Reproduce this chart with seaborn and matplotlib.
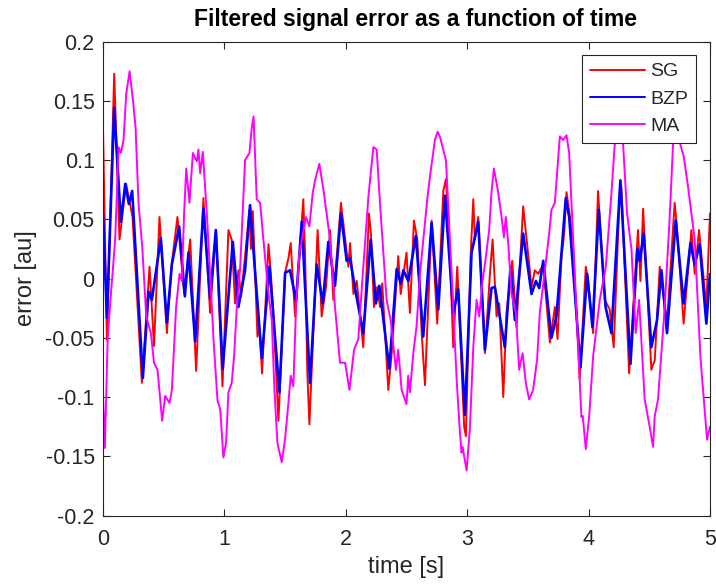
import numpy as np
import matplotlib
matplotlib.use("Agg")
import matplotlib.pyplot as plt
import seaborn as sns
from matplotlib.ticker import FuncFormatter

# -----------------------------
# Data (time [s], error [au])
# -----------------------------
sg_t = [0.0, 0.032, 0.092, 0.136, 0.19, 0.243, 0.32, 0.383, 0.42, 0.465, 0.526, 0.567,
        0.613, 0.668, 0.718, 0.767, 0.827, 0.882, 0.931, 0.984,
        1.033, 1.06, 1.088, 1.115, 1.137, 1.17, 1.206, 1.218, 1.234, 1.272, 1.288, 1.31,
        1.363, 1.382, 1.403, 1.445, 1.5, 1.527, 1.546, 1.582, 1.65, 1.664, 1.683, 1.7,
        1.738, 1.768, 1.801, 1.837, 1.87, 1.897, 1.96,
        2.007, 2.021, 2.035, 2.063, 2.09, 2.144, 2.191, 2.207, 2.232, 2.259, 2.282, 2.3,
        2.35, 2.378, 2.432, 2.452, 2.5, 2.528, 2.561, 2.589, 2.625, 2.652, 2.707, 2.753,
        2.803, 2.825, 2.858, 2.885, 2.918, 2.975,
        2.989, 3.028, 3.05, 3.063, 3.091, 3.146, 3.187, 3.209, 3.242, 3.264, 3.297, 3.324,
        3.371, 3.406, 3.461, 3.53, 3.557, 3.585, 3.626, 3.681, 3.722, 3.744, 3.777, 3.799,
        3.818, 3.851, 3.873, 3.927,
        3.977, 3.997, 4.037, 4.078, 4.133, 4.174, 4.207, 4.257, 4.27, 4.334, 4.407, 4.427,
        4.449, 4.517, 4.545, 4.586, 4.646, 4.709, 4.723, 4.783, 4.847, 4.874, 4.91, 4.97, 5.0]
sg_v = [0.125, -0.052, 0.173, 0.033, 0.08, 0.052, -0.088, 0.010, -0.057, 0.052, -0.046, 0.0135,
        0.052, -0.012, 0.033, -0.078, 0.068, -0.029, 0.041, -0.091,
        0.041, 0.033, -0.021, 0.007, -0.015, 0.019, 0.058, 0.025, 0.057, -0.049, -0.041, -0.08,
        0.029, 0.005, -0.029, -0.12, 0.005, 0.017, 0.030, -0.032, 0.067, 0.022, -0.08, -0.123,
        -0.032, 0.041, -0.032, -0.007, 0.041, -0.018, 0.064,
        0.022, 0.010, 0.030, -0.013, -0.002, -0.058, 0.055, 0.038, -0.024, -0.007, -0.024, -0.004,
        -0.094, -0.063, 0.019, -0.013, 0.022, -0.029, 0.049, 0.033, -0.046, -0.09, 0.049, -0.038,
        0.074, 0.084, 0.019, -0.058, 0.010, -0.125,
        -0.133, 0.019, 0.067, 0.033, 0.052, -0.063, 0.004, 0.033, -0.032, -0.021, -0.1, -0.029,
        0.015, -0.041, 0.061, -0.007, 0.007, 0.004, 0.012, -0.054, -0.024, -0.051, 0.019, 0.038,
        0.073, 0.049, 0.025, -0.085,
        0.010, -0.002, -0.046, 0.074, -0.018, -0.026, -0.058, 0.074, 0.077, -0.08, 0.041, -0.002,
        0.059, -0.077, -0.069, 0.010, -0.038, 0.064, 0.049, -0.038, 0.041, 0.004, 0.041, -0.024, 0.055]

bzp_t = [0.0, 0.032, 0.092, 0.147, 0.183, 0.213, 0.24, 0.328, 0.375, 0.402, 0.476, 0.526,
         0.567, 0.627, 0.674, 0.704, 0.759, 0.827, 0.882, 0.929, 0.986,
         1.069, 1.115, 1.17, 1.211, 1.253, 1.308, 1.371, 1.453, 1.5, 1.541, 1.59, 1.637,
         1.705, 1.76, 1.81, 1.856, 1.911, 1.96,
         2.007, 2.035, 2.084, 2.144, 2.205, 2.248, 2.276, 2.358, 2.419, 2.452, 2.474, 2.515,
         2.577, 2.638, 2.707, 2.762, 2.817, 2.885, 2.926, 2.981,
         3.036, 3.091, 3.146, 3.2, 3.228, 3.31, 3.357, 3.393, 3.461, 3.53, 3.566, 3.593,
         3.626, 3.694, 3.735, 3.777, 3.812, 3.84, 3.933, 3.988,
         4.032, 4.084, 4.14, 4.188, 4.262, 4.345, 4.402, 4.421, 4.454, 4.517, 4.564, 4.6,
         4.646, 4.718, 4.783, 4.839, 4.874, 4.915, 4.97, 5.0]
bzp_v = [0.054, -0.033, 0.144, 0.048, 0.080, 0.063, 0.074, -0.084, -0.011, -0.018, 0.034, -0.037,
         0.012, 0.044, -0.015, 0.022, -0.053, 0.059, -0.0165, 0.041, -0.076,
         0.031, -0.024, 0.007, 0.062, 0.005, -0.067, 0.010, -0.096, 0.005, 0.007, -0.019, 0.048,
         -0.088, 0.012, -0.021, 0.031, -0.006, 0.055,
         0.015, 0.017, -0.013, -0.046, 0.033, -0.021, -0.006, -0.076, 0.008, -0.004, 0.007, -0.002,
         0.036, -0.049, 0.047, -0.026, 0.070, -0.029, -0.009, -0.115,
         0.022, 0.048, -0.060, -0.008, -0.007, -0.058, 0.010, -0.035, 0.038, -0.013, -0.002, -0.008,
         0.015, -0.050, -0.032, 0.022, 0.068, 0.052, -0.075, 0.004,
         -0.041, 0.058, -0.024, -0.046, 0.083, -0.072, 0.025, 0.015, 0.038, -0.058, -0.035, 0.007,
         -0.046, 0.049, -0.021, 0.030, 0.012, 0.029, -0.038, 0.004]

ma_t = [0.0, 0.015, 0.038, 0.065, 0.1, 0.128, 0.147, 0.169, 0.191, 0.219, 0.246, 0.268,
        0.292, 0.323, 0.356, 0.394, 0.42, 0.449, 0.487, 0.512, 0.548, 0.567, 0.602, 0.63,
        0.649, 0.668, 0.685, 0.712, 0.74, 0.773, 0.786, 0.8, 0.822, 0.855, 0.882, 0.91,
        0.943, 0.965, 0.992, 1.014,
        1.033, 1.06, 1.08, 1.102, 1.13, 1.17, 1.206, 1.226, 1.24, 1.266, 1.294, 1.321,
        1.363, 1.39, 1.412, 1.437, 1.472, 1.5, 1.527, 1.546, 1.568, 1.59, 1.618, 1.672,
        1.7, 1.727, 1.747, 1.782, 1.82, 1.87, 1.911, 1.952, 1.994,
        2.03, 2.068, 2.103, 2.144, 2.186, 2.227, 2.254, 2.287, 2.336, 2.369, 2.413, 2.432,
        2.46, 2.5, 2.514, 2.528, 2.556, 2.583, 2.611, 2.671, 2.693, 2.734, 2.756, 2.775,
        2.825, 2.872, 2.913, 2.935, 2.953,
        2.962, 2.995, 3.022, 3.05, 3.077, 3.099, 3.126, 3.146, 3.181, 3.201, 3.22, 3.255,
        3.283, 3.302, 3.318, 3.338, 3.365, 3.401, 3.428, 3.456, 3.483, 3.51, 3.543, 3.576,
        3.598, 3.64, 3.675, 3.694, 3.722, 3.763, 3.79, 3.818, 3.84, 3.873, 3.906, 3.941,
        3.952, 3.977, 4.005, 4.037, 4.092, 4.142, 4.188, 4.216, 4.243, 4.284, 4.317, 4.353,
        4.388, 4.416, 4.462, 4.503, 4.531, 4.545, 4.572, 4.627, 4.668, 4.696, 4.723, 4.745,
        4.784, 4.82, 4.874, 4.921, 4.976, 5.0]
ma_v = [-0.10, -0.143, -0.051, -0.013, 0.033, 0.111, 0.106, 0.117, 0.156, 0.175, 0.151, 0.128,
        0.064, 0.027, -0.032, -0.046, -0.071, -0.077, -0.12, -0.099, -0.105, -0.094, -0.024, 0.004,
        -0.002, 0.055, 0.093, 0.064, 0.106, 0.099, 0.109, 0.089, 0.107, 0.055, 0.004, -0.051,
        -0.103, -0.11, -0.151, -0.138,
        -0.096, -0.088, -0.065, -0.024, 0.010, 0.1, 0.106, 0.128, 0.137, 0.067, 0.064, 0.033,
        -0.013, -0.035, -0.094, -0.139, -0.155, -0.135, -0.105, -0.082, -0.091, -0.024, 0.022, 0.052,
        0.044, 0.072, 0.083, 0.097, 0.072, 0.033, -0.024, -0.071, -0.071,
        -0.094, -0.060, -0.051, 0.010, 0.069, 0.111, 0.109, 0.055, -0.018, -0.035, -0.077, -0.06,
        -0.094, -0.106, -0.082, -0.096, -0.063, -0.04, 0.004, 0.067, 0.086, 0.117, 0.124, 0.120,
        0.100, 0.004, -0.085, -0.122, -0.147,
        -0.142, -0.162, -0.127, -0.058, -0.018, -0.032, -0.002, 0.012, 0.041, 0.074, 0.093, 0.073,
        0.052, 0.035, 0.052, 0.030, -0.013, -0.029, -0.077, -0.063, -0.088, -0.102, -0.094, -0.068,
        -0.029, 0.007, 0.038, 0.058, 0.064, 0.120, 0.117, 0.121, 0.106, 0.033, -0.038, -0.117,
        -0.116, -0.144, -0.116, -0.066, -0.018, 0.010, 0.072, 0.114, 0.145, 0.114, 0.055, 0.025,
        -0.046, -0.018, -0.102, -0.125, -0.142, -0.116, -0.102, -0.024, 0.052, 0.114, 0.14, 0.117,
        0.103, 0.077, 0.033, -0.066, -0.136, -0.125]

x_ticks = [0, 1, 2, 3, 4, 5]
y_ticks = [-0.2, -0.15, -0.1, -0.05, 0, 0.05, 0.1, 0.15, 0.2]

sns.set_style("ticks")
plt.rcParams["font.family"] = ["Liberation Sans", "DejaVu Sans"]
plt.rcParams["axes.unicode_minus"] = False

fig = plt.figure(figsize=(7.16, 5.85), dpi=100)
ax = fig.add_axes([0.1439, 0.1188, 0.8477, 0.8099])

sns.lineplot(x=sg_t, y=sg_v, color="#ff0000", lw=1.4, label="SG",
             estimator=None, sort=False, ax=ax)
sns.lineplot(x=bzp_t, y=bzp_v, color="#0000ff", lw=1.9, label="BZP",
             estimator=None, sort=False, ax=ax)
sns.lineplot(x=ma_t, y=ma_v, color="#ff00ff", lw=1.4, label="MA",
             estimator=None, sort=False, ax=ax)

ax.set_xlim(0, 5)
ax.set_ylim(-0.2, 0.2)
ax.set_xticks(x_ticks)
ax.set_yticks(y_ticks)
ax.yaxis.set_major_formatter(FuncFormatter(lambda v, p: "%g" % round(v, 3)))
ax.xaxis.set_major_formatter(FuncFormatter(lambda v, p: "%g" % v))

axis_gray = "#262626"
for s in ax.spines.values():
    s.set_color(axis_gray)
    s.set_linewidth(0.8)
ax.tick_params(direction="in", length=5, width=0.8, color=axis_gray,
               labelsize=15.5, labelcolor=axis_gray, top=True, right=True)
ax.tick_params(axis="x", pad=10)
ax.tick_params(axis="y", pad=6)

ax.set_xlabel("time [s]", fontsize=17, color=axis_gray, labelpad=4)
ax.set_ylabel("error [au]", fontsize=17, color=axis_gray, labelpad=6)
ax.set_title("Filtered signal error as a function of time", fontsize=16.5,
             fontweight="bold", color="black", pad=11, x=0.515)

leg = ax.legend(loc="upper right", bbox_to_anchor=(0.977, 0.972), borderaxespad=0,
                fontsize=14, fancybox=False, framealpha=1, edgecolor=axis_gray,
                handlelength=2.8, handletextpad=0.3, labelspacing=0.5,
                borderpad=0.4)
leg.get_frame().set_linewidth(0.8)
for line in leg.get_lines():
    line.set_linewidth(1.4)

fig.savefig("out.png", dpi=100)
